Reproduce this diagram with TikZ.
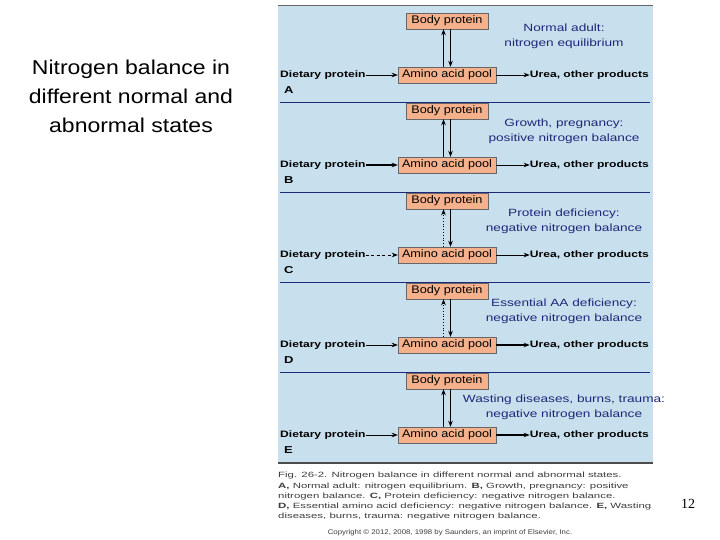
\documentclass[tikz,border=0pt]{standalone}
\usepackage{fontspec}
\setmainfont{Liberation Sans}
\newfontfamily\serifx{Liberation Serif}
\newfontfamily\wideA[FakeStretch=1.3]{Liberation Sans}
\newfontfamily\wideB[FakeStretch=1.15]{Liberation Sans}
\newfontfamily\wideC[FakeStretch=1.5]{Liberation Sans}
\usetikzlibrary{arrows.meta}
\definecolor{panel}{RGB}{200,224,238}
\definecolor{boxfill}{RGB}{245,176,140}
\definecolor{navy}{RGB}{30,40,120}
\definecolor{capgray}{RGB}{60,60,60}
\begin{document}
\begin{tikzpicture}[x=1pt,y=-1pt,
  lbl/.style={font=\wideA\fontsize{9.3}{10}\selectfont\bfseries,inner sep=0pt},
  box/.style={draw=black!60,fill=boxfill,font=\wideB\fontsize{11}{10}\selectfont,inner sep=0pt,minimum height=16,minimum width=#1},
  note/.style={text=navy,font=\wideA\fontsize{10.5}{15}\selectfont,align=center},
  arr/.style={-{Stealth[length=6pt,width=4.5pt]},line width=0.8pt},
  thick arr/.style={arr,line width=1.8pt},
]
\useasboundingbox (0,0) rectangle (720,540);
\fill[panel] (278,6) rectangle (653,463);
\draw[black!60,line width=1pt] (278,6) -- (653,6);
\draw[black!70,line width=1.5pt] (278,463) -- (653,463);
\foreach \yy in {102,192,282,372}{\draw[navy,line width=0.8pt] (280,\yy) -- (650,\yy);}
\node[align=center,font=\wideB\fontsize{20}{29}\selectfont] (title) at (131,96) {Nitrogen balance in\\different normal and\\abnormal states};
% panels
\foreach \i/\L/\ty/\note in {0/A/36/{Normal adult:\\nitrogen equilibrium},1/B/131/{Growth, pregnancy:\\positive nitrogen balance},2/C/221/{Protein deficiency:\\negative nitrogen balance},3/D/311/{Essential AA deficiency:\\negative nitrogen balance},4/E/407/{Wasting diseases, burns, trauma:\\negative nitrogen balance}}{
  \pgfmathsetmacro{\dy}{90*\i}
  \begin{scope}[yshift=-\dy]
  \node[box=82] (bp\L) at (447,21) {Body protein};
  \node[box=98] (aa\L) at (447,75) {Amino acid pool};
  \node[lbl,anchor=west] (dp\L) at (280,75) {Dietary protein};
  \node[lbl,anchor=east] (ur\L) at (649,75) {Urea, other products};
  \node[lbl,anchor=west,font=\wideA\fontsize{10}{10}\selectfont\bfseries] (let\L) at (284,90) {\L};
  \end{scope}
  \node[note] (n\L) at (564,\ty) {\note};
}
% A
\draw[arr] ([xshift=-3.5]aaA.north) -- ([xshift=-3.5]bpA.south);
\draw[arr] ([xshift=3.5]bpA.south) -- ([xshift=3.5]aaA.north);
\draw[arr] (dpA) -- (aaA);
\draw[arr] (aaA) -- (urA);
% B
\draw[thick arr] ([xshift=-3.5]aaB.north) -- ([xshift=-3.5]bpB.south);
\draw[arr] ([xshift=3.5]bpB.south) -- ([xshift=3.5]aaB.north);
\draw[arr,line width=1.3pt] (dpB) -- (aaB);
\draw[arr] (aaB) -- (urB);
% C
\draw[arr,dotted,line width=1.2pt] ([xshift=-3.5]aaC.north) -- ([xshift=-3.5]bpC.south);
\draw[arr] ([xshift=3.5]bpC.south) -- ([xshift=3.5]aaC.north);
\draw[arr,dash pattern=on 3pt off 2.5pt] (dpC) -- (aaC);
\draw[arr] (aaC) -- (urC);
% D
\draw[arr,dotted,line width=1.2pt] ([xshift=-3.5]aaD.north) -- ([xshift=-3.5]bpD.south);
\draw[arr] ([xshift=3.5]bpD.south) -- ([xshift=3.5]aaD.north);
\draw[arr] (dpD) -- (aaD);
\draw[arr,line width=1.5pt] (aaD) -- (urD);
% E
\draw[arr] ([xshift=-3.5]aaE.north) -- ([xshift=-3.5]bpE.south);
\draw[thick arr] ([xshift=3.5]bpE.south) -- ([xshift=3.5]aaE.north);
\draw[arr] (dpE) -- (aaE);
\draw[arr,line width=1.5pt] (aaE) -- (urE);
% caption
\node[anchor=north west,align=left,text=capgray,font=\wideC\fontsize{7.6}{10.3}\selectfont,inner sep=0pt] (cap) at (278,472) {Fig. 26-2. Nitrogen balance in different normal and abnormal states.\\\textbf{A,} Normal adult: nitrogen equilibrium. \textbf{B,} Growth, pregnancy: positive\\nitrogen balance. \textbf{C,} Protein deficiency: negative nitrogen balance.\\\textbf{D,} Essential amino acid deficiency: negative nitrogen balance. \textbf{E,} Wasting\\diseases, burns, trauma: negative nitrogen balance.};
\node[text=capgray,font=\wideB\fontsize{6.8}{7}\selectfont] (copy) at (450,533) {Copyright © 2012, 2008, 1998 by Saunders, an imprint of Elsevier, Inc.};
\node[font=\serifx\fontsize{14}{14}\selectfont] (pg) at (688,504) {12};
\end{tikzpicture}
\end{document}
